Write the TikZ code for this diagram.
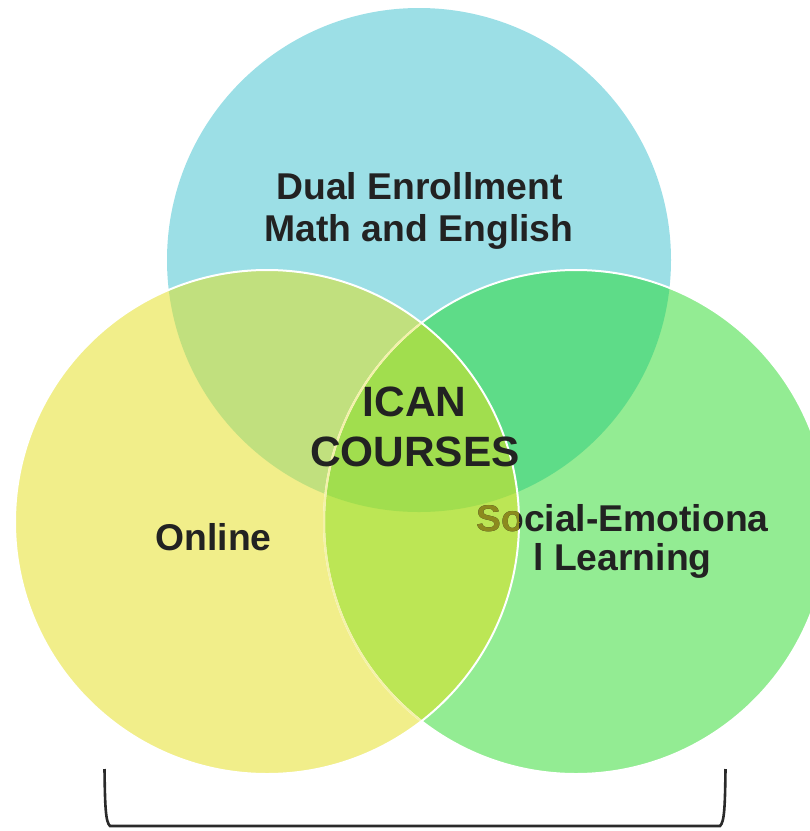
\documentclass[tikz,border=0pt]{standalone}
\usepackage{fontspec}
\setmainfont{Liberation Sans}
\definecolor{cy}{HTML}{9CDFE6}
\definecolor{yl}{HTML}{F1EE8A}
\definecolor{gr}{HTML}{93EC93}
\definecolor{tl}{HTML}{C1E07E}
\definecolor{tr}{HTML}{5EDC88}
\definecolor{lr}{HTML}{BCE655}
\definecolor{ctr}{HTML}{A1DE4E}
\definecolor{txt}{HTML}{222222}
\definecolor{olv}{HTML}{8C8A1E}
\definecolor{edgey}{HTML}{F4F1A8}
\definecolor{brk}{HTML}{2A2A2A}
\begin{document}
\begin{tikzpicture}[x=1pt,y=-1pt,
  lbl/.style={font=\fontsize{37.3}{42}\selectfont\bfseries, text=txt, inner sep=0pt, anchor=base},
  big/.style={lbl, font=\fontsize{42.4}{49}\selectfont\bfseries},
  rim/.style={draw=white, line width=2pt}]
\useasboundingbox (0,0) rectangle (810,831);
\def\CT{(419,260) circle[radius=252]}
\def\CL{(267,522) circle[radius=252]}
\def\CR{(576,522) circle[radius=252]}
% base circles
\fill[cy] \CT;
\fill[gr] \CR;
\fill[yl] \CL;
% pairwise overlaps
\begin{scope}\clip \CT; \fill[tl] \CL; \fill[tr] \CR; \end{scope}
\begin{scope}\clip \CL; \fill[lr] \CR; \end{scope}
\begin{scope}\clip \CT; \clip \CL; \fill[ctr] \CR; \end{scope}
% rims
\draw[rim] \CR;
\begin{scope}\clip \CL; \draw[draw=edgey, line width=2pt] \CR; \end{scope}
\draw[rim] \CL;
% labels
\node[lbl] (dual) at (419.5,199.3) {Dual Enrollment};
\node[lbl] (math) at (419,241.5) {Math and English};
\node[lbl] (online) at (213.5,550.7) {Online};
\node[lbl] (soc) at (622.5,531.7) {Social-Emotiona};
\begin{scope}\clip \CL;
\node[lbl, text=olv] (socb) at (622.5,531.7) {Social-Emotiona};
\end{scope}
\node[lbl] (learn) at (622.5,570.7) {l Learning};
\node[big] (ican) at (414.5,416.7) {ICAN};
\node[big] (courses) at (415,466) {COURSES};
% bracket
\draw[brk, line width=2.6pt] (104.5,769) .. controls (105,806) and (105.5,822) .. (110,826)
  -- (720,826) .. controls (724.5,822) and (725,806) .. (725.5,769);
\end{tikzpicture}
\end{document}
